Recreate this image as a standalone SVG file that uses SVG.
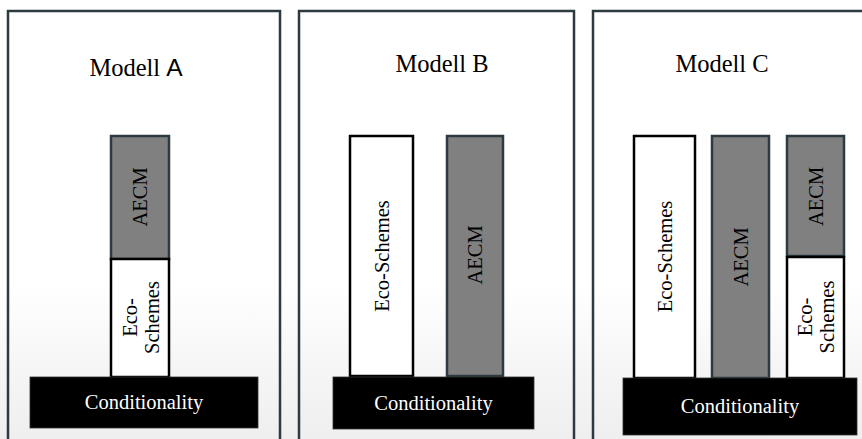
<svg xmlns="http://www.w3.org/2000/svg" width="862" height="439" viewBox="0 0 862 439">
  <defs>
    <linearGradient id="bg" x1="0" y1="0" x2="0" y2="1">
      <stop offset="0" stop-color="#ffffff"/>
      <stop offset="0.65" stop-color="#ffffff"/>
      <stop offset="0.85" stop-color="#f5f5f5"/>
      <stop offset="1" stop-color="#efefef"/>
    </linearGradient>
  </defs>
  <style>
    .frame { fill: none; stroke: #2d3b41; stroke-width: 2.5; }
    .eco { fill: #ffffff; stroke: #000000; stroke-width: 2.5; }
    .aecm { fill: #808080; stroke: #2d3b41; stroke-width: 2.5; }
    .cond { fill: #000000; stroke: #333333; stroke-width: 0.8; }
    .t { font-size: 20.5px; fill: #000000; text-anchor: middle; }
    .tw { font-size: 20.5px; fill: #ffffff; text-anchor: middle; }
    .title { font-size: 24.5px; fill: #000000; text-anchor: middle; }
  </style>
  <rect x="0" y="0" width="862" height="439" fill="url(#bg)"/>

  <g font-family="'Liberation Serif', 'Times New Roman', serif">
  <g id="panel-a">
    <path class="frame" d="M8,445 V11 H280 V445"/>
    <text class="title" x="136" y="76">Modell <tspan font-family="'Liberation Sans', Arial, sans-serif">A</tspan></text>
  </g>
  <g id="panel-b">
    <path class="frame" d="M299,445 V11 H574 V445"/>
    <text class="title" x="442" y="72">Modell B</text>
  </g>
  <g id="panel-c">
    <path class="frame" d="M593,445 V11 H866"/>
    <text class="title" x="722" y="72">Modell C</text>
  </g>

  <g id="a-aecm">
    <rect class="aecm" x="111" y="136" width="58" height="123"/>
    <text class="t" transform="translate(147,197) rotate(-90)">AECM</text>
  </g>
  <g id="a-eco">
    <rect class="eco" x="111" y="259" width="58" height="118"/>
    <text class="t" transform="translate(137,317.5) rotate(-90)">Eco-</text>
    <text class="t" transform="translate(159,317.5) rotate(-90)">Schemes</text>
  </g>
  <g id="a-cond">
    <rect class="cond" x="30" y="377" width="228" height="51"/>
    <text class="tw" x="144" y="409">Conditionality</text>
  </g>

  <g id="b-eco">
    <rect class="eco" x="350" y="136" width="63" height="240"/>
    <text class="t" transform="translate(388.5,256) rotate(-90)">Eco-Schemes</text>
  </g>
  <g id="b-aecm">
    <rect class="aecm" x="447" y="136" width="56" height="240"/>
    <text class="t" transform="translate(482,255) rotate(-90)">AECM</text>
  </g>
  <g id="b-cond">
    <rect class="cond" x="333" y="377" width="201" height="52"/>
    <text class="tw" x="433.5" y="409.5">Conditionality</text>
  </g>

  <g id="c-eco">
    <rect class="eco" x="634" y="136" width="61" height="242"/>
    <text class="t" transform="translate(671.5,256.5) rotate(-90)">Eco-Schemes</text>
  </g>
  <g id="c-aecm">
    <rect class="aecm" x="712" y="136" width="57" height="242"/>
    <text class="t" transform="translate(747.5,257) rotate(-90)">AECM</text>
  </g>
  <g id="c-aecm2">
    <rect class="aecm" x="787" y="136" width="57" height="120"/>
    <text class="t" transform="translate(822.5,196.5) rotate(-90)">AECM</text>
  </g>
  <g id="c-eco2">
    <rect class="eco" x="787" y="257" width="57" height="121"/>
    <text class="t" transform="translate(812,317) rotate(-90)">Eco-</text>
    <text class="t" transform="translate(834,317) rotate(-90)">Schemes</text>
  </g>
  <g id="c-cond">
    <rect class="cond" x="623" y="378" width="234" height="57"/>
    <text class="tw" x="740" y="413">Conditionality</text>
  </g>
  </g>

  <g id="connectors"/>
</svg>
